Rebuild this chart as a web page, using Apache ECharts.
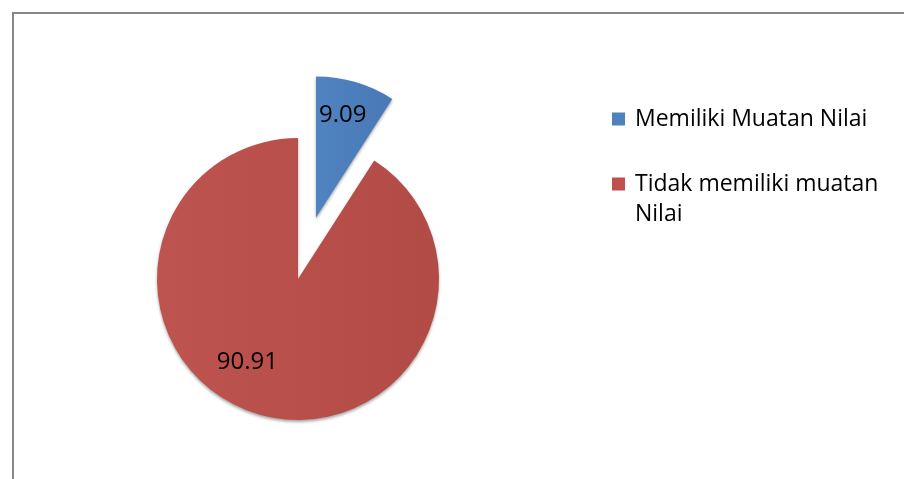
<!DOCTYPE html>
<html>
<head>
<meta charset="utf-8">
<script src="https://cdn.jsdelivr.net/npm/echarts@6/dist/echarts.min.js"></script>
<style>
html,body{margin:0;padding:0;background:#fff;}
#frame{position:absolute;left:12px;top:12px;width:900px;height:475px;border-left:2px solid #878787;border-top:2px solid #878787;}
#chart{position:absolute;left:0;top:0;width:904px;height:479px;}
</style>
</head>
<body>
<div id="frame"></div>
<div id="chart"></div>
<script>
const categories = ['Memiliki Muatan Nilai', 'Tidak memiliki muatan Nilai'];
const values = [9.09, 90.91];
const colors = [['#5083C1', '#4979B6'], ['#BE5450', '#B24A46']];
const legendColors = ['#4F81BD', '#C0504D'];
const legendLabels = ['Memiliki Muatan Nilai', '\nTidak memiliki muatan\nNilai'];

const chart = echarts.init(document.getElementById('chart'));
const labelShift = [[6, -32], [-30, 13]];
chart.setOption({
  animation: false,
  legend: {
    orient: 'vertical',
    left: 607,
    top: 99,
    itemWidth: 18,
    itemHeight: 13,
    itemGap: 5,
    icon: 'path://M0,0h13v13h-13z M18,0h0.01v0.01h-0.01z',
    selectedMode: false,
    formatter: function (name) { return legendLabels[categories.indexOf(name)]; },
    textStyle: { fontFamily: 'Open Sans', fontSize: 23, color: '#000', lineHeight: 30 },
    data: [
      { name: categories[0], itemStyle: { color: legendColors[0] } },
      { name: categories[1], itemStyle: { color: legendColors[1] } }
    ]
  },
  series: [{
    type: 'pie',
    center: [298, 279],
    radius: 141,
    startAngle: 90,
    clockwise: true,
    selectedMode: 'single',
    selectedOffset: 64,
    label: {
      position: 'inside',
      formatter: function (p) { return p.value.toFixed(2); },
      fontFamily: 'Open Sans',
      fontSize: 24,
      color: '#000'
    },
    labelLayout: function (p) {
      const s = labelShift[p.dataIndex];
      return { dx: s[0], dy: s[1] };
    },
    labelLine: { show: false },
    emphasis: { disabled: true },
    itemStyle: {
      borderWidth: 0,
      shadowColor: 'rgba(0,0,0,0.35)',
      shadowBlur: 3,
      shadowOffsetY: 2
    },
    data: categories.map(function (c, i) {
      return {
        name: c, value: values[i], selected: i === 0,
        itemStyle: {
          color: new echarts.graphic.LinearGradient(0, 0, 1, 0, [
            { offset: 0, color: colors[i][0] },
            { offset: 1, color: colors[i][1] }
          ])
        }
      };
    })
  }]
});
</script>
</body>
</html>
